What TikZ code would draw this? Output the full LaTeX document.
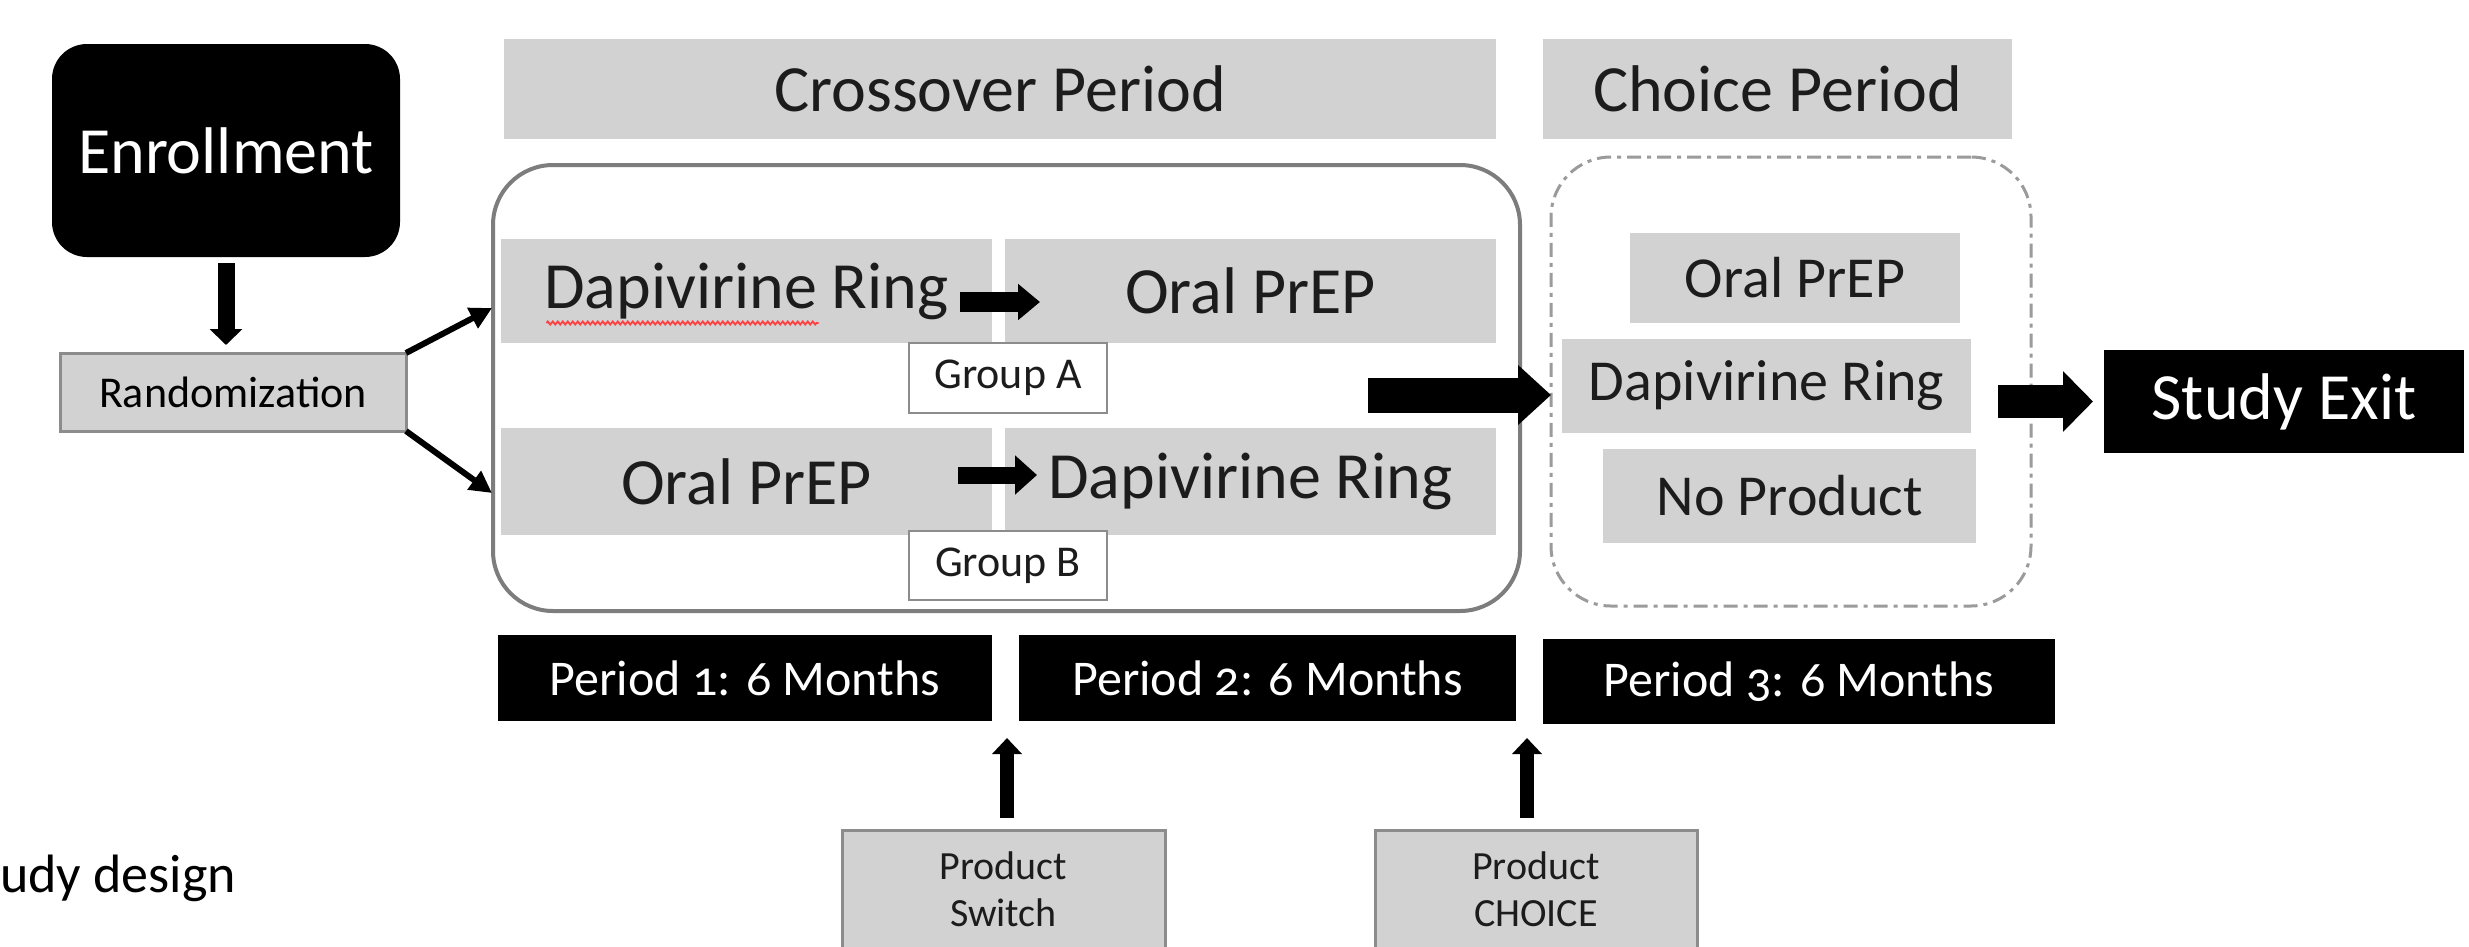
\documentclass[tikz,border=0pt]{standalone}
\usepackage{fontspec}
\setmainfont{Carlito}
\newfontfamily\osf{Carlito}[Numbers=OldStyle]
\usetikzlibrary{arrows.meta,calc,decorations.pathmorphing}
\definecolor{lgray}{RGB}{210,210,210}
\definecolor{bordergray}{RGB}{140,140,140}
\definecolor{framegray}{RGB}{125,125,125}
\definecolor{dashgray}{RGB}{155,155,155}
\definecolor{txt}{RGB}{28,28,28}
\tikzset{
  box/.style={inner sep=0pt, outer sep=0pt, align=center},
  gbox/.style={box, fill=lgray, text=txt},
  bbox/.style={box, fill=black, text=white},
  bigtext/.style={font=\fontsize{66}{79}\selectfont},
  midtext/.style={font=\fontsize{58}{70}\selectfont},
  pertext/.style={font=\osf\fontsize{50}{60}\selectfont},
  smalltext/.style={font=\fontsize{44}{52}\selectfont},
  tinytext/.style={font=\fontsize{40}{47}\selectfont},
  grpbox/.style={box, fill=white, draw=bordergray, line width=2.5pt, text=txt, smalltext},
  sidebox/.style={gbox, draw=bordergray, line width=3pt},
  blockarr/.style args={#1/#2/#3}{draw=black, line width=#1, -{Triangle[length=#2,width=#3]}},
}
\begin{document}
\begin{tikzpicture}[x=1pt,y=-1pt]
\useasboundingbox (0,0) rectangle (2469,946);
\clip (0,0) rectangle (2469,946);
\fill[white] (0,0) rectangle (2469,946);

% frames
\node[box, draw=framegray, line width=4pt, rounded corners=60pt, minimum width=1027pt, minimum height=446pt] (crossbox) at (1006.5,388) {};
\node[box, draw=dashgray, line width=3pt, rounded corners=60pt, dash pattern=on 14pt off 6pt on 4pt off 6pt, minimum width=480pt, minimum height=449pt] (choicebox) at (1791,381.5) {};

% left column
\node[bbox, bigtext, rounded corners=35pt, minimum width=348pt, minimum height=213pt] (enroll) at (226,150.5) {Enrollment};
\node[sidebox, smalltext, text=black, minimum width=346pt, minimum height=78pt] (rand) at (233,392) {Randomization};

% headers
\node[gbox, bigtext, minimum width=992pt, minimum height=100pt] (crosshead) at (1000,89) {Crossover Period};
\node[gbox, bigtext, minimum width=469pt, minimum height=100pt] (choicehead) at (1777.5,89) {Choice Period};

% crossover rows
\node[gbox, bigtext, minimum width=491pt, minimum height=104pt] (a1) at (746.5,291) {Dapivirine Ring};
\node[gbox, bigtext, minimum width=491pt, minimum height=104pt] (a2) at (1250.5,291) {Oral PrEP};
\node[gbox, bigtext, minimum width=491pt, minimum height=107pt] (b1) at (746.5,481.5) {Oral PrEP};
\node[gbox, bigtext, minimum width=491pt, minimum height=107pt] (b2) at (1250.5,481.5) {Dapivirine Ring};
\draw[red!75, line width=1.8pt, decorate, decoration={zigzag, amplitude=1.5pt, segment length=5pt}]
  ([xshift=-200pt,yshift=-32pt]a1.center) -- ([xshift=72pt,yshift=-32pt]a1.center);
\node[grpbox, minimum width=198pt, minimum height=70pt] (grpA) at (1008,378) {Group A};
\node[grpbox, minimum width=198pt, minimum height=69pt] (grpB) at (1008,565.5) {Group B};

% choice options
\node[gbox, midtext, minimum width=330pt, minimum height=90pt] (c1) at (1795,278) {Oral PrEP};
\node[gbox, midtext, minimum width=409pt, minimum height=94pt] (c2) at (1766.5,386) {Dapivirine Ring};
\node[gbox, midtext, minimum width=373pt, minimum height=94pt] (c3) at (1789.5,496) {No Product};

% exit
\node[bbox, bigtext, minimum width=360pt, minimum height=103pt] (exit) at (2284,401.5) {Study Exit};

% periods
\node[bbox, pertext, minimum width=494pt, minimum height=86pt] (p1) at (745,678) {Period 1: 6 Months};
\node[bbox, pertext, minimum width=497pt, minimum height=86pt] (p2) at (1267.5,678) {Period 2: 6 Months};
\node[bbox, pertext, minimum width=512pt, minimum height=85pt] (p3) at (1799,681.5) {Period 3: 6 Months};

% bottom boxes
\node[sidebox, tinytext, text=txt, minimum width=323pt, minimum height=119pt] (ps) at (1003.5,889.5) {Product\\Switch};
\node[sidebox, tinytext, text=txt, minimum width=322pt, minimum height=119pt] (pc) at (1536,889.5) {Product\\CHOICE};

% caption fragment
\node[box, anchor=base west, text=black, font=\fontsize{54}{64}\selectfont] (cap) at (0,892) {udy design};

% connectors
\draw[blockarr=17pt/16pt/32pt, shorten <=6pt, shorten >=8pt] (enroll.south) -- (enroll.south |- rand.north);
\coordinate (upin) at (492,308);
\coordinate (lowin) at (492,493);
\draw[blockarr=6pt/22pt/22pt] (rand.north east) -- (upin);
\draw[blockarr=6pt/22pt/22pt] (rand.south east) -- (lowin);
\draw[blockarr=20pt/22pt/35pt] ([xshift=-32pt,yshift=-11pt]a1.east) -- ([xshift=35pt,yshift=-11pt]a2.west);
\draw[blockarr=17pt/22pt/38pt] ([xshift=-34pt,yshift=6.5pt]b1.east) -- ([xshift=32pt,yshift=6.5pt]b2.west);
\draw[blockarr=35pt/33pt/58pt] ([xshift=-152pt,yshift=-7pt]crossbox.east) -- ([yshift=-13.5pt]choicebox.west);
\draw[blockarr=33pt/30pt/59pt] ([xshift=27pt]c2.east |- exit.west) -- ([xshift=-11pt]exit.west);
\draw[blockarr=14pt/16pt/29pt, shorten <=12pt, shorten >=17pt] ([xshift=3.5pt]ps.north) -- ([xshift=3.5pt]ps.north |- p1.south);
\draw[blockarr=14pt/16pt/29pt, shorten <=12pt, shorten >=17pt] ([xshift=-9pt]pc.north) -- ([xshift=-9pt]pc.north |- p2.south);
\end{tikzpicture}
\end{document}
